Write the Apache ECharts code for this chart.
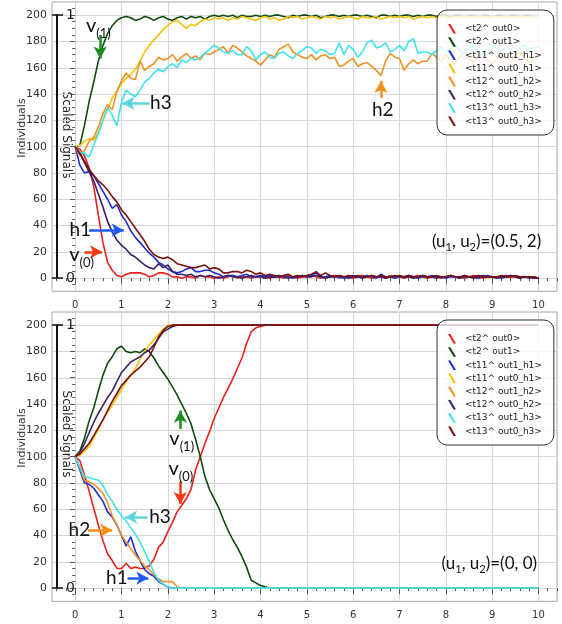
<!DOCTYPE html>
<html><head><meta charset="utf-8">
<script src="https://cdn.jsdelivr.net/npm/echarts@6/dist/echarts.min.js"></script>
<style>html,body{margin:0;padding:0;background:#fff}#c{width:562px;height:624px}</style>
</head><body><div id="c"></div>
<script>
const SERIES_NAMES = ['<t2^ out0>','<t2^ out1>','<t11^ out1_h1>','<t11^ out0_h1>','<t12^ out1_h2>','<t12^ out0_h2>','<t13^ out1_h3>','<t13^ out0_h3>'];
const COLORS = ['#e8211d','#0f4a12','#1f2fd0','#f4c20d','#ec9226','#3b1f63','#42e2ea','#7a1212'];
const X_TICKS = [0,1,2,3,4,5,6,7,8,9,10];
const Y_TICKS = [0,20,40,60,80,100,120,140,160,180,200];
const SCALED_TICKS = [0,1];
const DT = 0.1;

// ---- top panel (u1,u2)=(0.5,2): values every 0.1 from 0 to 10
const top_out0 = [100,98,93,84,70,48,27,12,6,2,1,
 3,4,4,4,3,1,2,4,4,3, 1,1,0,1,1,0,2,1,1,0, 1,0,1,2,0,1,1,0,1,2, 1,0,1,1,0,2,1,0,1,1,
 2,1,0,1,1,2,0,1,1,0, 1,2,1,0,1,1,0,2,1,1, 0,1,1,2,1,0,1,1,0,1, 2,1,1,0,1,2,1,0,1,1, 0,1,2,1,1,0,1,1,0,0];
const top_out1 = [100,101,116,134,149,165,177,186,192,196,198,
 199,198,196,197,199,198,196,198,199,197, 196,198,199,197,199,198,199,197,199,200,
 199,200,199,200,198,200,199,199,200,199, 200,199,200,200,199,198,200,199,200,200,
 199,200,198,199,200,200,199,200,199,200, 200,199,200,199,198,200,200,199,200,199,
 200,200,199,200,199,200,200,199,200,200, 199,200,200,199,200,200,199,200,200,199,
 200,200,199,200,200,199,200,200,199,200];
const top_out1_h1 = [100,86,80,81,78,72,66,60,53,56,48,
 43,36,31,27,23,19,16,12,10,7, 5,4,5,7,8,5,5,6,6,4, 3,1,2,2,1,2,3,1,1,2, 1,2,1,1,2,1,0,1,2,1,
 2,4,1,1,2,1,1,0,1,2, 1,1,2,1,0,3,1,1,0,1, 1,2,1,0,1,1,2,1,1,0, 1,1,0,2,1,1,0,1,2,1, 1,0,1,2,1,1,1,0,1,0];
const top_out0_h1 = [100,101,104,106,105,111,120,128,137,142,148,
 152,155,159,165,172,177,181,185,189,192, 195,196,193,190,193,192,195,197,196,198,
 197,198,196,198,197,199,198,197,196,198, 199,197,198,196,197,199,198,199,197,198,
 199,198,197,199,198,199,197,198,199,198, 197,199,198,198,199,197,198,199,198,199,
 198,199,197,198,199,198,199,198,199,199, 198,199,198,199,199,198,199,199,198,199,
 199,198,199,199,198,199,199,198,199,199];
const top_out1_h2 = [100,93,97,104,107,115,125,132,128,142,150,
 156,152,151,165,158,161,163,168,166,167, 170,165,168,171,167,169,166,171,170,172,
 174,176,171,177,175,172,169,167,165,162, 166,170,168,174,176,178,172,170,168,167,
 170,166,169,170,167,168,161,162,165,167, 161,163,164,161,158,154,165,171,168,167,
 158,163,166,163,165,165,171,168,165,170, 166,163,168,172,167,164,169,171,166,163,
 167,170,168,165,169,172,167,164,168,170];
const top_out0_h2 = [100,95,88,81,74,64,54,43,35,29,25,
 22,18,16,13,10,8,7,11,8,10, 5,3,3,2,3,1,2,1,2,1, 0,1,2,1,1,0,1,2,1,1, 0,1,1,2,1,0,1,1,2,1,
 1,2,1,0,1,1,2,1,0,1, 1,0,1,2,1,1,0,1,1,2, 1,1,0,1,2,1,1,0,1,1, 2,1,0,1,1,0,1,2,1,1, 0,1,1,2,1,0,1,1,0,0];
const top_out1_h3 = [100,96,95,92,101,110,120,130,124,116,134,
 143,140,138,143,149,152,156,159,157,161, 163,160,166,164,167,166,168,171,174,177,
 175,172,171,173,170,170,176,173,166,170, 172,168,167,171,172,169,167,171,173,176,
 175,171,174,173,170,171,179,170,177,174, 168,172,179,181,175,176,179,172,174,177,
 173,180,182,171,172,172,170,173,176,172, 175,178,173,171,175,177,173,170,174,177,
 175,172,176,174,171,175,178,174,175,176];
const top_out0_h3 = [100,95,89,83,78,74,71,67,62,58,52,
 48,43,38,33,28,22,18,16,15,16, 14,11,10,9,8,8,9,10,7,8, 7,4,4,5,5,4,6,5,3,4, 2,3,2,1,2,3,1,2,1,2,
 3,5,2,4,2,1,2,1,2,1, 2,1,1,2,1,2,1,1,2,1, 1,2,1,1,2,1,1,2,1,1, 2,1,1,2,1,1,2,1,1,1, 1,2,1,1,2,1,1,1,1,0];

// ---- bottom panel (u1,u2)=(0,0): [time, individuals]
const bot_out0 = [[0,100],[0.1,97],[0.2,86],[0.3,74],[0.4,61],[0.5,48],[0.6,36],[0.7,26],[0.8,21],[0.9,15],[1.0,15],[1.1,19],[1.2,15],[1.3,16],[1.4,15],[1.5,15],[1.6,17],[1.7,22],[1.8,31],[1.9,35],[2.0,43],[2.1,50],[2.2,58],[2.3,63],[2.4,68],[2.5,75],[2.6,90],[2.7,100],[2.8,110],[2.9,119],[3.0,129],[3.1,137],[3.2,145],[3.3,152],[3.4,159],[3.5,167],[3.6,175],[3.7,186],[3.8,195],[3.9,198],[4.0,199],[4.1,200],[10,200]];
const bot_out1 = [[0,100],[0.1,104],[0.2,114],[0.3,127],[0.4,137],[0.5,150],[0.6,162],[0.7,171],[0.8,176],[0.9,182],[1.0,184],[1.1,180],[1.2,179],[1.3,180],[1.4,179],[1.5,182],[1.6,180],[1.7,175],[1.8,169],[1.9,164],[2.0,159],[2.1,153],[2.2,147],[2.3,140],[2.4,133],[2.5,125],[2.6,113],[2.7,100],[2.8,85],[2.9,75],[3.0,68],[3.1,61],[3.2,52],[3.3,44],[3.4,37],[3.5,31],[3.6,24],[3.7,16],[3.8,6],[3.9,4],[4.0,2],[4.1,1],[4.2,0],[10,0]];
const bot_out1_h1 = [[0,100],[0.1,90],[0.2,80],[0.3,79],[0.4,76],[0.5,71],[0.6,66],[0.7,58],[0.8,54],[0.9,48],[1.0,40],[1.1,32],[1.2,39],[1.3,28],[1.4,21],[1.5,14],[1.6,11],[1.7,9],[1.8,5],[1.9,3],[2.0,1],[2.1,0],[10,0]];
const bot_out0_h1 = [[0,100],[0.1,101],[0.2,104],[0.3,108],[0.4,114],[0.5,121],[0.6,128],[0.7,134],[0.8,139],[0.9,145],[1.0,151],[1.1,157],[1.2,162],[1.3,167],[1.4,174],[1.5,180],[1.6,185],[1.7,189],[1.8,193],[1.9,197],[2.0,200],[10,200]];
const bot_out1_h2 = [[0,100],[0.1,92],[0.2,82],[0.3,81],[0.4,79],[0.5,76],[0.6,72],[0.7,65],[0.8,55],[0.9,48],[1.0,40],[1.1,35],[1.2,30],[1.3,25],[1.4,21],[1.5,17],[1.6,14],[1.7,10],[1.8,7],[1.9,5],[2.0,5],[2.1,5],[2.2,1],[2.3,0],[10,0]];
const bot_out0_h2 = [[0,100],[0.1,103],[0.2,110],[0.3,118],[0.4,126],[0.5,133],[0.6,139],[0.7,145],[0.8,150],[0.9,157],[1.0,164],[1.1,168],[1.2,172],[1.3,174],[1.4,176],[1.5,179],[1.6,181],[1.7,185],[1.8,190],[1.9,195],[2.0,197],[2.1,199],[2.2,200],[10,200]];
const bot_out1_h3 = [[0,100],[0.1,92],[0.2,85],[0.3,84],[0.4,83],[0.5,82],[0.6,78],[0.7,71],[0.8,66],[0.9,60],[1.0,55],[1.1,51],[1.2,46],[1.3,41],[1.4,35],[1.5,28],[1.6,20],[1.7,12],[1.8,6],[1.9,3],[2.0,1],[2.1,0],[10,0]];
const bot_out0_h3 = [[0,100],[0.1,102],[0.2,106],[0.3,110],[0.4,116],[0.5,122],[0.6,128],[0.7,135],[0.8,142],[0.9,148],[1.0,154],[1.1,158],[1.2,162],[1.3,165],[1.4,168],[1.5,172],[1.6,176],[1.7,183],[1.8,191],[1.9,196],[2.0,199],[2.1,200],[10,200]];

// annotation texts and arrows, in data coordinates [time, individuals]
const TOP_LABELS = [
  {coord:[0.5,192], text:'{v|v}{s|(1)}'},
  {coord:[1.85,133], text:'{h|h3}'},
  {coord:[6.64,128], text:'{h|h2}'},
  {coord:[0.11,36.5], text:'{h|h1}'},
  {coord:[0.14,18], text:'{v|v}{s|(0)}'},
  {coord:[8.88,26.6], text:'{a|(u}{b|1}{a|, u}{b|2}{a|)=(0.5, 2)}'}
];
const TOP_ARROWS = [
  {from:[0.54,185], to:[0.54,167], color:'#1c8c1c'},
  {from:[1.6,133], to:[1.02,133], color:'#5ad6de'},
  {from:[6.6,137], to:[6.6,150], color:'#f29018'},
  {from:[0.3,36.5], to:[1.05,36.5], color:'#1f5bf5'},
  {from:[0.2,20], to:[0.58,20], color:'#f23a12'}
];
const BOT_LABELS = [
  {coord:[2.3,114], text:'{v|v}{s|(1)}'},
  {coord:[2.28,91], text:'{v|v}{s|(0)}'},
  {coord:[1.83,54], text:'{h|h3}'},
  {coord:[0.09,44], text:'{h|h2}'},
  {coord:[0.9,7.6], text:'{h|h1}'},
  {coord:[8.94,17.5], text:'{a|(u}{b|1}{a|, u}{b|2}{a|)=(0, 0)}'}
];
const BOT_ARROWS = [
  {from:[2.27,121], to:[2.27,135], color:'#1c8c1c'},
  {from:[2.27,81], to:[2.27,64], color:'#f23a12'},
  {from:[1.56,54], to:[1.08,54], color:'#5ad6de'},
  {from:[0.28,44], to:[0.8,44], color:'#f29018'},
  {from:[1.13,7.6], to:[1.58,7.6], color:'#1f5bf5'}
];

const X_MINOR = [];
for (let k = -2; k <= 52; k++) { if (k % 5 !== 0) X_MINOR.push(Math.round(k * 2) / 10); }
const Y_MINOR = [];
for (let v = -5; v <= 205; v += 5) { if (v % 20 !== 0) Y_MINOR.push(v); }

function seq(arr) { return arr.map((v, i) => [Math.round(i * DT * 10) / 10, v]); }
const TOP_DATA = [top_out0, top_out1, top_out1_h1, top_out0_h1, top_out1_h2, top_out0_h2, top_out1_h3, top_out0_h3].map(seq);
const BOT_DATA = [bot_out0, bot_out1, bot_out1_h1, bot_out0_h1, bot_out1_h2, bot_out0_h2, bot_out1_h3, bot_out0_h3];

const FONT = 'DejaVu Sans';
const ANN = 'Lato';
const RICH = {
  v: {fontSize: 20, lineHeight: 20, verticalAlign: 'top', color: '#111', fontFamily: ANN},
  s: {fontSize: 13, lineHeight: 14, padding: [12, 0, 0, 0], verticalAlign: 'top', color: '#111', fontFamily: ANN},
  h: {fontSize: 19, color: '#111', fontFamily: ANN},
  a: {fontSize: 17, lineHeight: 20, verticalAlign: 'top', color: '#111', fontFamily: ANN},
  b: {fontSize: 11, lineHeight: 12, padding: [9, 0, 0, 0], verticalAlign: 'top', color: '#111', fontFamily: ANN}
};

const PY = 1.315;
const GRID_TOPS = [2, 312];
const grids = [];
GRID_TOPS.forEach(t => grids.push({left: 52, top: t, width: 505, height: 289.3, show: true, backgroundColor: '#fff', borderColor: '#a6a6a6', borderWidth: 1, outerBoundsMode: 'none'}));
GRID_TOPS.forEach(t => grids.push({left: 57, top: t + 10 * PY, width: 1, height: 200 * PY, show: false, outerBoundsMode: 'none'}));

const xAxes = [], yAxes = [];
[0, 1].forEach(g => {
  xAxes.push({type: 'value', gridIndex: g, min: -0.5, max: 10.4, position: 'bottom',
    axisLine: {show: false},
    axisTick: {show: true, customValues: X_TICKS, length: 6, lineStyle: {color: '#555'}},
    axisLabel: {customValues: X_TICKS, fontSize: 10, color: '#333', margin: 9, fontFamily: FONT},
    splitLine: {show: true, lineStyle: {color: '#d6d6d6', width: 1}}});
  xAxes.push({type: 'value', gridIndex: g, min: -0.5, max: 10.4, position: 'bottom',
    axisLine: {show: false},
    axisTick: {show: true, customValues: X_MINOR, length: 3, lineStyle: {color: '#555'}},
    axisLabel: {show: false}, splitLine: {show: false}});
  yAxes.push({type: 'value', gridIndex: g, min: -10, max: 210, position: 'left',
    axisLine: {show: false},
    axisTick: {show: true, customValues: Y_TICKS, length: 5, lineStyle: {color: '#555'}},
    axisLabel: {customValues: Y_TICKS, fontSize: 11, color: '#333', margin: 5, fontFamily: FONT},
    splitLine: {show: true, lineStyle: {color: '#d6d6d6', width: 1}}});
  yAxes.push({type: 'value', gridIndex: g, min: -10, max: 210, position: 'left',
    axisLine: {show: false},
    axisTick: {show: true, customValues: Y_MINOR, length: 3, lineStyle: {color: '#555'}},
    axisLabel: {show: false}, splitLine: {show: false}});
  yAxes.push({type: 'value', gridIndex: g, min: -10, max: 210, position: 'left',
    axisLine: {show: false},
    axisTick: {show: true, customValues: [0, 200], inside: true, length: 5, lineStyle: {color: '#111', width: 1.5}},
    axisLabel: {show: false}, splitLine: {show: false}});
});
[2, 3].forEach(g => {
  xAxes.push({type: 'value', gridIndex: g, min: 0, max: 1, show: false});
  yAxes.push({type: 'value', gridIndex: g, min: 0, max: 1, position: 'left',
    axisLine: {show: true, lineStyle: {color: '#111', width: 2}},
    axisTick: {show: true, customValues: SCALED_TICKS, inside: true, length: 6, lineStyle: {color: '#111', width: 1.5}},
    axisLabel: {customValues: SCALED_TICKS, inside: true, margin: 9, fontSize: 14, color: '#222', fontFamily: FONT},
    splitLine: {show: false}});
});

function markers(labels, arrows) {
  return {
    markPoint: {silent: true, symbol: 'rect', symbolSize: 1, itemStyle: {color: 'rgba(0,0,0,0)'},
      data: labels.map(l => ({coord: l.coord, label: {show: true, position: 'inside', formatter: l.text, rich: RICH}}))},
    markLine: {silent: true, symbol: ['none', 'arrow'], symbolSize: [10, 12], label: {show: false},
      data: arrows.map(a => [{coord: a.from, lineStyle: {color: a.color, width: 2.5, type: 'solid'}, itemStyle: {color: a.color}}, {coord: a.to}])}
  };
}

const series = [];
[[TOP_DATA, 0, 0, TOP_LABELS, TOP_ARROWS], [BOT_DATA, 2, 3, BOT_LABELS, BOT_ARROWS]].forEach(([D, xi, yi, L, A]) => {
  D.forEach((d, i) => {
    const s = {type: 'line', name: SERIES_NAMES[i], xAxisIndex: xi, yAxisIndex: yi, data: d,
      showSymbol: false, symbol: 'none', clip: true,
      lineStyle: {color: COLORS[i], width: 1.6}, itemStyle: {color: COLORS[i]}};
    if (i === 0) Object.assign(s, markers(L, A));
    series.push(s);
  });
});

function mkLegend(top) {
  return {left: 437, top: top, orient: 'vertical', selectedMode: false,
    data: SERIES_NAMES.map((n, i) => ({name: n, itemStyle: {color: COLORS[i], borderWidth: 0}})),
    icon: 'path://M0,0L3,0L10,12L7,12Z', itemWidth: 8, itemHeight: 11, itemGap: 3.6,
    padding: [14, 12, 9, 11], borderColor: '#333', borderWidth: 1, borderRadius: 10,
    backgroundColor: 'rgba(255,255,255,0.8)',
    textStyle: {fontSize: 9, color: '#222', fontFamily: FONT, padding: [0, 0, 0, 4]}};
}

const graphic = [];
[[128, 135], [438, 434]].forEach(([yi, ys]) => {
  graphic.push({type: 'text', x: 22, y: yi, rotation: Math.PI / 2,
    style: {text: 'Individuals', fontSize: 11, fontFamily: FONT, fill: '#333', align: 'center', verticalAlign: 'middle'}});
  graphic.push({type: 'text', x: 66, y: ys, rotation: -Math.PI / 2,
    style: {text: 'Scaled Signals', fontSize: 12, fontFamily: FONT, fill: '#222', align: 'center', verticalAlign: 'middle'}});
});

const chart = echarts.init(document.getElementById('c'), null, {renderer: 'canvas'});
chart.setOption({
  animation: false,
  backgroundColor: '#fff',
  textStyle: {fontFamily: FONT},
  grid: grids, xAxis: xAxes, yAxis: yAxes,
  legend: [mkLegend(10), mkLegend(320)],
  graphic: graphic,
  series: series
});
</script></body></html>
